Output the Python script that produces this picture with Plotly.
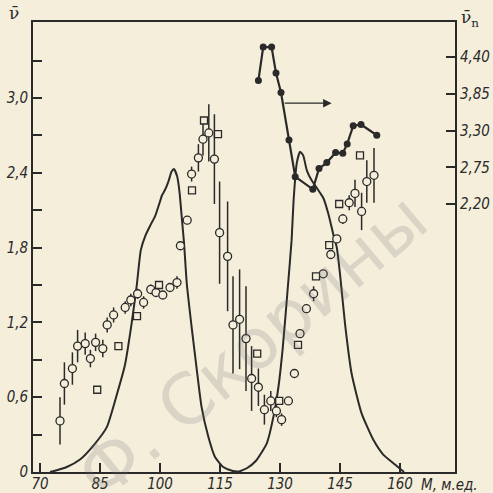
import plotly.graph_objects as go

# ---- data ----
# open circles: mean neutron number (left axis) with error bars
circ_m = [75.0, 76.1, 78.1, 79.4, 81.3, 82.6, 83.9, 85.7, 86.8, 88.4, 91.3, 92.7, 94.4, 95.9,
          97.7, 99.0, 100.7, 102.5, 104.25, 105.1, 106.8, 107.9, 109.6, 110.75, 112.2, 113.6,
          114.9, 116.9, 118.25, 119.9, 121.5, 122.9, 124.6, 126.1, 127.7, 129.1, 130.4, 132.1,
          133.6, 135.0, 136.6, 138.4, 140.8, 142.7, 144.2, 145.7, 147.3, 148.75, 150.4, 151.7, 153.5]
circ_nu = [0.41, 0.71, 0.83, 1.01, 1.03, 0.91, 1.04, 0.99, 1.18, 1.26, 1.32, 1.38, 1.43, 1.36,
           1.465, 1.44, 1.42, 1.48, 1.52, 1.815, 2.02, 2.39, 2.52, 2.67, 2.72, 2.51,
           1.92, 1.73, 1.18, 1.225, 1.07, 0.75, 0.68, 0.50, 0.57, 0.49, 0.42, 0.57,
           0.79, 1.11, 1.31, 1.43, 1.59, 1.745, 1.87, 2.03, 2.16, 2.235, 2.09, 2.33, 2.38]
circ_err = [0.19, 0.17, 0.13, 0.13, 0.09, 0.07, 0.07, 0.07, 0.06, 0.06, 0.05, 0.05, 0.04, 0.05,
            0.04, 0.0, 0.0, 0.0, 0.05, 0.0, 0.0, 0.06, 0.11, 0.13, 0.23, 0.36,
            0.41, 0.44, 0.39, 0.40, 0.42, 0.26, 0.15, 0.12, 0.08, 0.05, 0.05, 0.0,
            0.0, 0.0, 0.0, 0.06, 0.0, 0.0, 0.0, 0.04, 0.06, 0.11, 0.15, 0.17, 0.22]

# open squares (left axis)
sq_m = [84.3, 89.6, 94.25, 99.75, 108.0, 111.0, 114.5, 124.3, 129.8, 134.5, 139.0, 142.3, 144.8, 150.0]
sq_nu = [0.66, 1.01, 1.25, 1.50, 2.26, 2.82, 2.71, 0.95, 0.57, 1.02, 1.57, 1.82, 2.15, 2.54]

# filled circles: nu_n (right axis)
nun_m = [124.6, 125.8, 127.9, 129.0, 130.25, 132.25, 133.8, 138.2, 139.75, 141.7, 143.9,
         145.7, 146.8, 148.3, 150.25, 154.2]
nun_val = [4.05, 4.55, 4.55, 4.16, 3.87, 3.16, 2.61, 2.42, 2.73, 2.82, 2.97,
           2.96, 3.10, 3.37, 3.39, 3.23]

# mass-yield curves (shape only, plotted on left scale)
light_m = [72.5, 73.75, 76.7, 80.0, 83.3, 86.7, 89.2, 91.25, 92.9, 94.2, 95.2, 96.4, 97.6,
           98.75, 99.8, 100.5, 101.2, 102.1, 102.9, 103.5, 104.3, 104.9, 105.5, 106.0, 106.7,
           107.9, 109.2, 110.4, 112.1, 113.75, 115.8, 118.0, 120.0]
light_y = [0.0, 0.01, 0.04, 0.10, 0.21, 0.36, 0.62, 0.86, 1.19, 1.50, 1.78, 1.90, 1.98,
           2.05, 2.15, 2.22, 2.26, 2.33, 2.41, 2.43, 2.37, 2.24, 2.02, 1.84, 1.51,
           1.165, 0.82, 0.52, 0.28, 0.12, 0.04, 0.01, 0.0]
heavy_m = [119.5, 121.7, 124.0, 126.7, 128.4, 129.6, 130.7, 131.9, 132.9, 133.4, 134.2, 135.0,
           135.8, 136.7, 137.9, 138.75, 140.0, 140.8, 142.1, 143.3, 144.2, 145.0, 146.25,
           147.9, 150.4, 153.3, 155.8, 158.75, 161.0]
heavy_y = [0.0, 0.03, 0.09, 0.23, 0.45, 0.68, 1.0, 1.46, 1.86, 2.18, 2.48, 2.57,
           2.54, 2.42, 2.34, 2.30, 2.24, 2.20, 2.07, 1.91, 1.80, 1.59, 1.19,
           0.79, 0.47, 0.26, 0.14, 0.06, 0.0]

x_ticks = [70, 85, 100, 115, 130, 145, 160]
y_ticks = [0, 0.3, 0.6, 0.9, 1.2, 1.5, 1.8, 2.1, 2.4, 2.7, 3.0, 3.3]
y_tick_text = ["0", "", "0,6", "", "1,2", "", "1,8", "", "2,4", "", "3,0", ""]
y2_ticks = [2.20, 2.75, 3.30, 3.85, 4.40]
y2_tick_text = ["2,20", "2,75", "3,30", "3,85", "4,40"]

BG = "#f4eedb"
INK = "#2a2a2a"
FONT = "Liberation Sans Narrow, DejaVu Sans Condensed, Liberation Sans, sans-serif"

fig = go.Figure()
fig.add_trace(go.Scatter(x=light_m, y=light_y, mode="lines", line=dict(color=INK, width=2, shape="spline", smoothing=0.5),
                         showlegend=False, hoverinfo="skip"))
fig.add_trace(go.Scatter(x=heavy_m, y=heavy_y, mode="lines", line=dict(color=INK, width=2, shape="spline", smoothing=0.5),
                         showlegend=False, hoverinfo="skip"))
fig.add_trace(go.Scatter(x=circ_m, y=circ_nu, mode="markers",
                         error_y=dict(type="data", array=circ_err, color=INK, thickness=1.5, width=0),
                         marker=dict(symbol="circle", size=8, color=BG, line=dict(color=INK, width=1.3)),
                         showlegend=False))
fig.add_trace(go.Scatter(x=sq_m, y=sq_nu, mode="markers",
                         marker=dict(symbol="square", size=7, color=BG, line=dict(color=INK, width=1.3)),
                         showlegend=False))
fig.add_trace(go.Scatter(x=nun_m, y=nun_val, mode="lines+markers", yaxis="y2",
                         line=dict(color=INK, width=2.2),
                         marker=dict(symbol="circle", size=7, color=INK),
                         showlegend=False))

axis_common = dict(showline=True, linecolor=INK, linewidth=1.8, showgrid=False, zeroline=False,
                   automargin=False,
                   ticks="inside", ticklen=9, tickwidth=1.5, tickcolor=INK,
                   tickfont=dict(family=FONT, size=15, color=INK, style="italic"))

fig.update_layout(
    width=493, height=493,
    margin=dict(l=33, r=38, t=22, b=21),
    paper_bgcolor=BG, plot_bgcolor=BG,
    xaxis=dict(range=[68.25, 173.75], tickvals=x_ticks, ticktext=[str(v) for v in x_ticks],
               mirror=True, ticklabelstandoff=-3, **axis_common),
    yaxis=dict(range=[0, 3.61], tickvals=y_ticks, ticktext=y_tick_text, **axis_common),
    yaxis2=dict(range=[-1.812, 4.925], overlaying="y", side="right", tickvals=y2_ticks,
                ticktext=y2_tick_text, **axis_common),
    annotations=[
        dict(text="Ф. Скорины", xref="paper", yref="paper", x=0.52, y=0.28, showarrow=False,
             xanchor="center", yanchor="middle",
             textangle=-40, font=dict(family="DejaVu Sans, sans-serif", size=70, color="rgba(110,110,110,0.2)")),
        dict(text="ν̄", xref="paper", yref="paper", x=-0.045, y=1.02, showarrow=False,
             xanchor="center", yanchor="middle",
             font=dict(family="DejaVu Serif, serif", size=17, color=INK)),
        dict(text="ν̄<sub>n</sub>", xref="paper", yref="paper", x=1.035, y=1.008, showarrow=False,
             xanchor="center", yanchor="middle",
             font=dict(family="DejaVu Serif, serif", size=17, color=INK)),
        dict(text="M, м.ед.", xref="paper", yref="paper", x=0.988, y=-0.028, showarrow=False,
             xanchor="center", yanchor="middle",
             font=dict(family=FONT, size=15, color=INK, style="italic")),
        dict(x=142.9, y=3.71, xref="x", yref="y2", ax=130.8, ay=3.71, axref="x", ayref="y2",
             text="", showarrow=True, arrowhead=2, arrowsize=1.3, arrowwidth=1.3, arrowcolor=INK),
    ],
)

fig.write_html("out.html", config={"displayModeBar": False},
               post_script="document.body.style.margin='0';document.body.style.padding='0';document.body.style.background='" + BG + "';")
